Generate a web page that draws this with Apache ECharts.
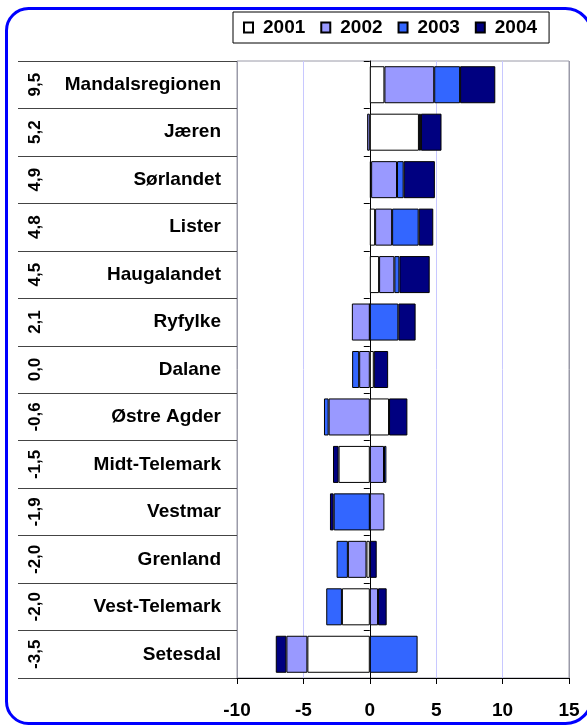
<!DOCTYPE html>
<html>
<head>
<meta charset="utf-8">
<script src="https://cdn.jsdelivr.net/npm/echarts@6/dist/echarts.min.js"></script>
<style>
html,body{margin:0;padding:0;background:#fff;}
#chart{width:587px;height:726px;}
</style>
</head>
<body>
<div id="chart"></div>
<script>
const categories = ['Mandalsregionen','Jæren','Sørlandet','Lister','Haugalandet','Ryfylke','Dalane','Østre Agder','Midt-Telemark','Vestmar','Grenland','Vest-Telemark','Setesdal'];
const totals = ['9,5','5,2','4,9','4,8','4,5','2,1','0,0','-0,6','-1,5','-1,9','-2,0','-2,0','-3,5'];
const seriesNames = ['2001','2002','2003','2004'];
const v2001 = [1.1, 3.7, 0.1, 0.4, 0.7, 0, 0.3, 1.45, -2.35, 0, -0.25, -2.1, -4.7];
const v2002 = [3.75, -0.2, 1.95, 1.28, 1.15, -1.35, -0.8, -3.1, 1.07, 1.1, -1.4, 0.62, -1.58];
const v2003 = [1.95, 0.15, 0.5, 2.0, 0.38, 2.15, -0.53, -0.35, 0.18, -2.72, -0.85, -1.18, 3.6];
const v2004 = [2.65, 1.55, 2.35, 1.1, 2.28, 1.3, 1.08, 1.38, -0.42, -0.28, 0.52, 0.65, -0.8];
const colors = ['#ffffff','#9999ff','#3366ff','#000080'];
const xMin = -10, xMax = 15, xStep = 5;

const FONT = 'Liberation Sans';
const chart = echarts.init(document.getElementById('chart'), null, {renderer:'canvas'});
const values = [v2001, v2002, v2003, v2004];

const option = {
  animation: false,
  backgroundColor: '#ffffff',
  graphic: [{
    type: 'rect', z: 100, silent: true,
    shape: {x: 6.5, y: 8.5, width: 585, height: 715, r: [22, 26, 26, 22]},
    style: {fill: 'none', stroke: '#0000ff', lineWidth: 3}
  }],
  legend: {
    left: 233, top: 12,
    icon: 'rect',
    itemWidth: 9, itemHeight: 10, itemGap: 15,
    padding: [6, 12, 6, 10],
    backgroundColor: '#ffffff', borderColor: '#000', borderWidth: 1,
    textStyle: {fontFamily: FONT, fontWeight: 'bold', fontSize: 19, color: '#000', padding: [0,0,0,5]},
    data: seriesNames
  },
  grid: [
    {left: 237, right: 18, top: 61, bottom: 48, show: true, borderColor: '#9a9aa8', borderWidth: 1},
    {left: 18, width: 219, top: 61, bottom: 48}
  ],
  xAxis: [
    {
      gridIndex: 0, type: 'value', min: xMin, max: xMax, interval: xStep,
      axisLine: {show: true, onZero: false, lineStyle: {color: '#000', width: 1}},
      axisTick: {show: true, length: 6, lineStyle: {color: '#000'}},
      axisLabel: {margin: 23, fontFamily: FONT, fontWeight: 'bold', fontSize: 19, color: '#000'},
      splitLine: {show: true, lineStyle: {color: ['#9a9aa8','#c8c8ff','#000000','#c8c8ff','#c8c8ff','#9a9aa8'], width: 1}}
    },
    {gridIndex: 1, type: 'value', show: false, min: 0, max: 1,
     axisLine: {show: false, onZero: false}, axisTick: {show: false}, axisLabel: {show: false}, splitLine: {show: false}}
  ],
  yAxis: [
    {
      gridIndex: 0, type: 'category', data: categories, inverse: true,
      axisLine: {show: true, onZero: true, lineStyle: {color: '#000', width: 1}},
      axisTick: {show: true, length: 6, lineStyle: {color: '#000'}},
      axisLabel: {show: false},
      splitLine: {show: false}
    },
    {
      gridIndex: 1, type: 'category', data: categories, inverse: true, position: 'right',
      axisLine: {show: false, onZero: false},
      axisTick: {show: false},
      axisLabel: {inside: true, margin: 16, fontFamily: FONT, fontWeight: 'bold', fontSize: 19, color: '#000'},
      splitLine: {show: true, lineStyle: {color: '#444', width: 1}}
    },
    {
      gridIndex: 1, type: 'category', data: totals, inverse: true, position: 'left',
      axisLine: {show: false, onZero: false}, axisTick: {show: false},
      axisLabel: {inside: true, margin: 17, rotate: 90, align: 'center', verticalAlign: 'middle',
                  fontFamily: FONT, fontWeight: 'bold', fontSize: 17, color: '#000'},
      splitLine: {show: false}
    }
  ],
  series: seriesNames.map((n, i) => ({
    name: n, type: 'bar', stack: 'total', xAxisIndex: 0, yAxisIndex: 0,
    barWidth: '78%',
    data: values[i],
    itemStyle: {color: colors[i], borderColor: '#000', borderWidth: 1}
  }))
};
chart.setOption(option);
</script>
</body>
</html>
